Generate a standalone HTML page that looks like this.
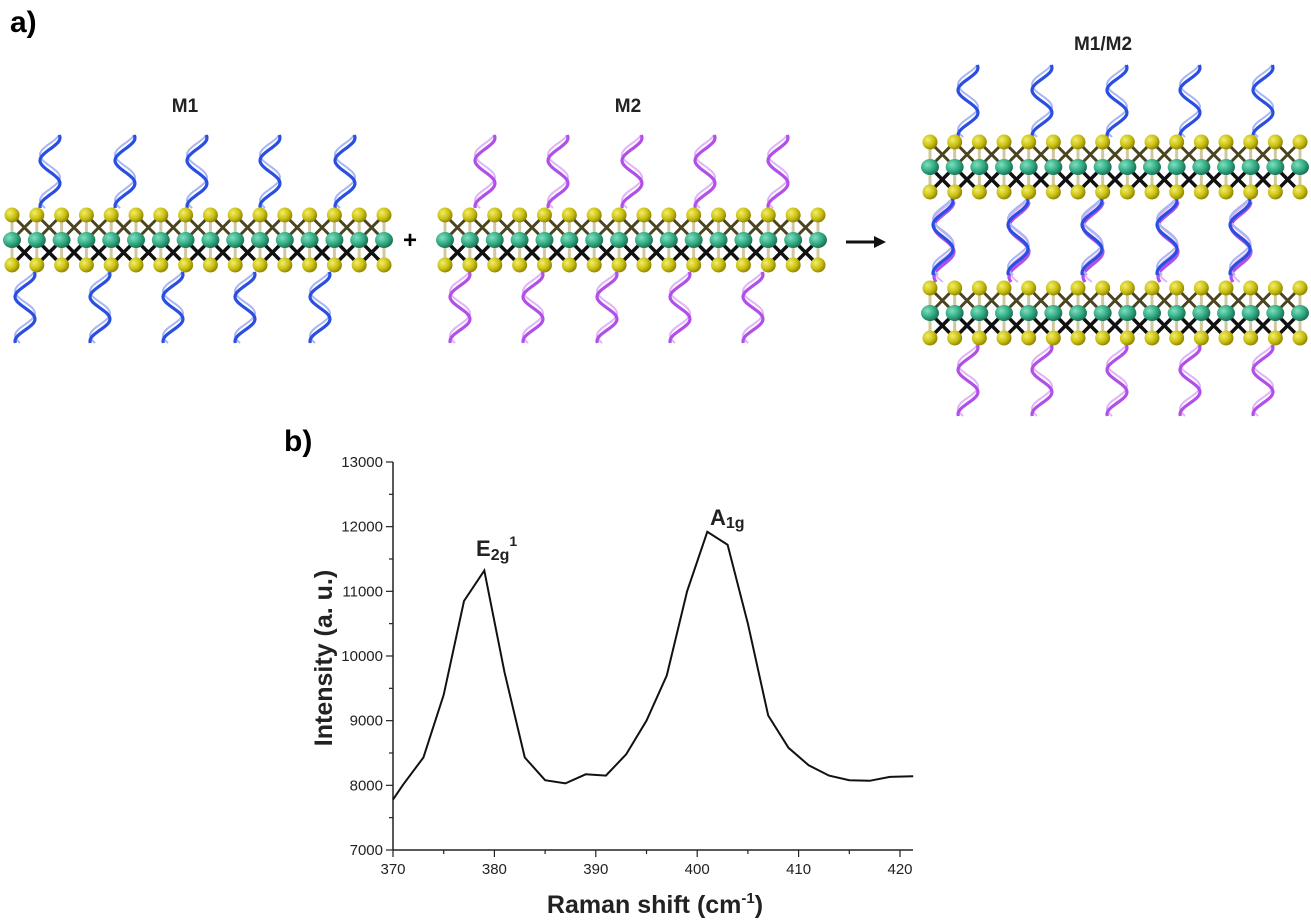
<!DOCTYPE html>
<html><head><meta charset="utf-8"><style>
html,body{margin:0;padding:0;background:#fff;width:1311px;height:922px;overflow:hidden}
svg{display:block}
text{font-family:"Liberation Sans",sans-serif}
</style></head><body>
<svg id="s" width="1311" height="922" viewBox="0 0 1311 922" xmlns="http://www.w3.org/2000/svg">
<defs>
<radialGradient id="gy" cx="0.35" cy="0.35" r="0.7"><stop offset="0" stop-color="#f2ee6a"/><stop offset="0.6" stop-color="#c9bf10"/><stop offset="1" stop-color="#8a7f00"/></radialGradient>
<radialGradient id="gm" cx="0.35" cy="0.35" r="0.7"><stop offset="0" stop-color="#7fe0c0"/><stop offset="0.6" stop-color="#2fa880"/><stop offset="1" stop-color="#1a6a50"/></radialGradient>
</defs>
<text x="10" y="32" font-size="30" font-weight="bold">a)</text>
<text x="185" y="112" font-size="19" font-weight="bold" fill="#222" text-anchor="middle">M1</text>
<text x="628" y="112" font-size="19" font-weight="bold" fill="#222" text-anchor="middle">M2</text>
<text x="1103" y="50" font-size="19" font-weight="bold" fill="#222" text-anchor="middle">M1/M2</text>
<text x="403" y="248" font-size="24" font-weight="bold">+</text>
<line x1="846" y1="242" x2="876" y2="242" stroke="#111" stroke-width="3"/>
<polygon points="874,236 886,242 874,248" fill="#111"/>
<g id="art"></g>
<text x="284" y="451" font-size="30" font-weight="bold">b)</text>
<g id="chart" font-size="15" fill="#222"></g>
</svg>
<script>
var art=document.getElementById('art'),h='';
function layer(x0,x1,yt){var n=16,st=(x1-x0)/(n-1),ym=yt+25,yb=yt+50,i,x;
 for(i=0;i<n;i++){x=x0+i*st;
  h+='<line x1="'+x+'" y1="'+yt+'" x2="'+x+'" y2="'+yb+'" stroke="#cfc8a0" stroke-width="3"/>';
  if(i<n-1){var x2=x+st;
   h+='<line x1="'+x+'" y1="'+yt+'" x2="'+x2+'" y2="'+ym+'" stroke="#4a4420" stroke-width="3"/><line x1="'+x2+'" y1="'+yt+'" x2="'+x+'" y2="'+ym+'" stroke="#4a4420" stroke-width="3"/>';
   h+='<line x1="'+x+'" y1="'+ym+'" x2="'+x2+'" y2="'+yb+'" stroke="#111" stroke-width="3.5"/><line x1="'+x2+'" y1="'+ym+'" x2="'+x+'" y2="'+yb+'" stroke="#111" stroke-width="3.5"/>';}}
 for(i=0;i<n;i++){x=x0+i*st;
  h+='<circle cx="'+x+'" cy="'+yt+'" r="7.5" fill="url(#gy)"/><circle cx="'+x+'" cy="'+yb+'" r="7.5" fill="url(#gy)"/><ellipse cx="'+x+'" cy="'+ym+'" rx="9" ry="8" fill="url(#gm)"/>';}}
function helix(cx,y0,y1,col,light,ph){var p1='',p2='',k,N=40,y,x;
 for(k=0;k<=N;k++){y=y0+(y1-y0)*k/N;x=cx+10*Math.sin(ph+k/N*Math.PI*3.2);p1+=(k?'L':'M')+x.toFixed(1)+','+y.toFixed(1);
 x=cx+10*Math.sin(ph+0.8+k/N*Math.PI*3.2);p2+=(k?'L':'M')+x.toFixed(1)+','+y.toFixed(1);}
 h+='<path d="'+p2+'" fill="none" stroke="'+light+'" stroke-width="2"/><path d="'+p1+'" fill="none" stroke="'+col+'" stroke-width="3.2"/>';}
var B='#2a4fe0',BL='#a8b6f2',P='#b050e8',PL='#e0b4f7';
[50,125,197,270,345].forEach(function(x){helix(x,135,208,B,BL,1.2)});
[25,100,173,245,320].forEach(function(x){helix(x,272,343,B,BL,1.2)});
layer(12,384,215);
[485,558,632,705,778].forEach(function(x){helix(x,135,208,P,PL,1.2)});
[460,533,607,680,753].forEach(function(x){helix(x,272,343,P,PL,1.2)});
layer(445,818,215);
[968,1042,1117,1190,1263].forEach(function(x){helix(x,65,137,B,BL,1.2)});
[943,1018,1092,1167,1240].forEach(function(x){helix(x+1,202,282,P,PL,1.6);helix(x,198,275,B,BL,1.2)});
[968,1042,1117,1190,1263].forEach(function(x){helix(x,345,416,P,PL,1.2)});
layer(930,1300,142);layer(930,1300,288);
art.innerHTML=h;
var c='',X=function(v){return 393+(v-370)*10.14},Y=function(v){return 850-(v-7000)*0.06467};
c+='<line x1="393" y1="462" x2="393" y2="850" stroke="#222" stroke-width="1.5"/><line x1="393" y1="850" x2="913" y2="850" stroke="#222" stroke-width="1.5"/>';
for(var v=7000;v<=13000;v+=500){var y=Y(v),L=v%1000?4:7;c+='<line x1="'+(393-L)+'" y1="'+y+'" x2="393" y2="'+y+'" stroke="#222" stroke-width="1.2"/>';
 if(v%1000==0)c+='<text x="383" y="'+(y+5)+'" text-anchor="end">'+v+'</text>';}
for(var u=370;u<=420;u+=5){var x=X(u),L=u%10?4:7;c+='<line x1="'+x+'" y1="850" x2="'+x+'" y2="'+(850+L)+'" stroke="#222" stroke-width="1.2"/>';
 if(u%10==0)c+='<text x="'+x+'" y="874" text-anchor="middle">'+u+'</text>';}
var d=[[370,7780],[371,8010],[373,8430],[375,9400],[377,10850],[379,11320],[381,9750],[383,8430],[385,8080],[387,8030],[389,8170],[391,8150],[393,8480],[395,9000],[397,9700],[399,11000],[401,11920],[403,11720],[405,10500],[407,9080],[409,8580],[411,8310],[413,8150],[415,8080],[417,8070],[419,8130],[421.3,8140]];
c+='<polyline fill="none" stroke="#111" stroke-width="2" points="'+d.map(function(p){return X(p[0]).toFixed(1)+','+Y(p[1]).toFixed(1)}).join(' ')+'"/>';
c+='<text x="476" y="556" font-size="22" font-weight="bold">E<tspan font-size="16" dy="4">2g</tspan><tspan font-size="14" dy="-14">1</tspan></text>';
c+='<text x="710" y="525" font-size="22" font-weight="bold">A<tspan font-size="16" dy="3">1g</tspan></text>';
c+='<text x="655" y="913" text-anchor="middle" font-size="25" font-weight="bold">Raman shift (cm<tspan font-size="15" dy="-10">-1</tspan><tspan dy="10">)</tspan></text>';
c+='<text transform="translate(332,658) rotate(-90)" text-anchor="middle" font-size="25" font-weight="bold">Intensity (a. u.)</text>';
document.getElementById('chart').innerHTML=c;
</script>
</body></html>
